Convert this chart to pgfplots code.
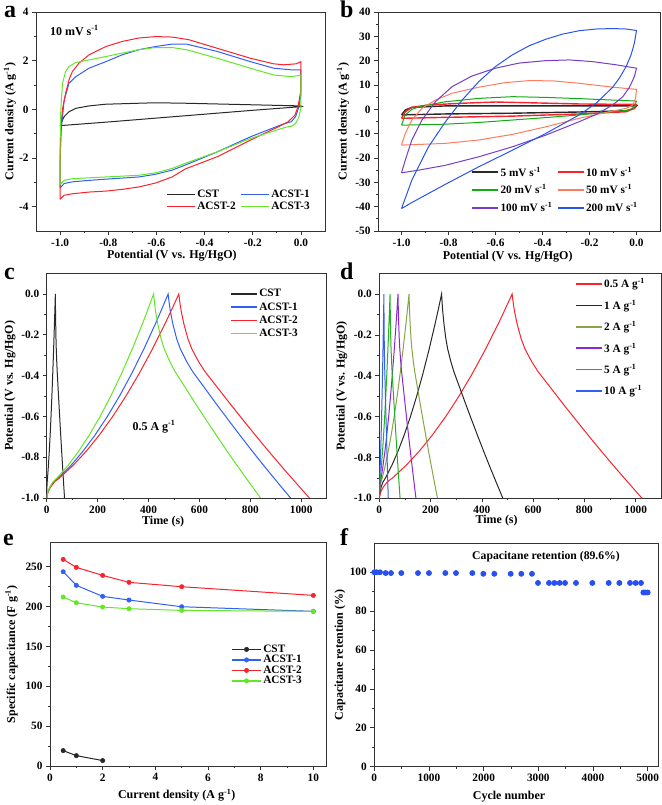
\documentclass[border=0pt]{standalone}
\usepackage{fontspec}
\setmainfont{Liberation Serif}
\usepackage{pgfplots}
\pgfplotsset{compat=1.18}

\definecolor{cblk}{RGB}{40,40,40}
\definecolor{cblue}{RGB}{50,95,245}
\definecolor{cred}{RGB}{250,35,45}
\definecolor{cgrn}{RGB}{100,230,40}
\definecolor{bgrn}{RGB}{20,170,20}
\definecolor{bsal}{RGB}{255,125,95}
\definecolor{bpur}{RGB}{120,60,200}
\definecolor{bblu}{RGB}{40,85,235}
\definecolor{dolv}{RGB}{135,165,70}
\definecolor{dpur}{RGB}{140,40,210}
\definecolor{dgrn}{RGB}{35,175,35}
\definecolor{fblu}{RGB}{40,80,240}

\newcommand{\tfont}{\fontsize{11.3}{13}\selectfont\bfseries}
\newcommand{\lfont}{\fontsize{12}{14}\selectfont\bfseries}
\newcommand{\gfont}{\fontsize{11.3}{13}\selectfont\bfseries}
\newcommand{\pfont}{\fontsize{24}{24}\selectfont\bfseries}
\newcommand{\sm}{\textsuperscript{-1}}

\pgfplotsset{
  panel/.style={
    scale only axis, anchor=south west,
    axis line style={black!80, line width=0.8pt},
    tick align=outside, xtick pos=left, ytick pos=left,
    major tick length=4pt, minor tick length=2.2pt,
    tick style={black!80, line width=0.7pt},
    tick label style={font=\tfont},
    label style={font=\lfont},
    /pgf/number format/assume math mode=true,
    /pgf/number format/1000 sep={},
    xlabel style={anchor=center},
    ylabel style={anchor=center},
    legend style={draw=none, fill=none, font=\gfont, inner sep=0pt, anchor=north west,
      nodes={inner sep=1.5pt}},
    legend cell align=left,
    every axis plot/.append style={line width=1pt},
  },
  dec1x/.style={xticklabel style={/pgf/number format/.cd, fixed, fixed zerofill, precision=1}},
  dec1y/.style={yticklabel style={/pgf/number format/.cd, fixed, fixed zerofill, precision=1}},
}

\begin{document}
\begin{tikzpicture}[x=1pt,y=1pt]
\useasboundingbox (0,0) rectangle (661,805);

% ---------------- panel a ----------------
\begin{axis}[panel, dec1x, at={(36pt,574pt)}, width=289pt, height=219pt,
  xmin=-1.1, xmax=0.1, ymin=-5, ymax=4,
  xtick={-1,-0.8,-0.6,-0.4,-0.2,0}, ytick={-4,-2,0,2,4},
  minor x tick num=1, minor y tick num=1,
  xlabel={Potential (V vs. Hg/HgO)}, ylabel={Current density (A g\sm)},
  xlabel style={at={(axis description cs:0.47,-0.114)}},
  ylabel style={at={(axis description cs:-0.09,0.5)}},
  legend columns=2,
  legend style={at={(axis description cs:0.45,0.194)}, row sep=0pt,
    /tikz/every even column/.append style={column sep=3pt}},
  legend image code/.code={\draw[#1, line width=1.5pt] (0pt,0pt) -- (28pt,0pt);},
]
\addplot[cblk] coordinates {(-1.0,-0.69) (-0.995,-0.55) (-0.983,-0.3) (-0.963,-0.1) (-0.935,0.04) (-0.88,0.14) (-0.81,0.21) (-0.673,0.25) (-0.604,0.27) (-0.48,0.25) (0,0.14) (0.005,0.12) (0,0.11) (-0.2,-0.04) (-0.4,-0.2) (-0.6,-0.36) (-0.8,-0.52) (-1.0,-0.67)};
\addlegendentry{CST}
\addplot[cblue] coordinates {(-1.0,-3.23) (-1.0,-2.0) (-0.995,-0.8) (-0.983,0.38) (-0.963,1.07) (-0.935,1.34) (-0.88,1.69) (-0.81,1.96) (-0.742,2.24) (-0.673,2.45) (-0.604,2.58) (-0.535,2.68) (-0.475,2.68) (-0.348,2.38) (-0.21,1.96) (-0.113,1.69) (-0.037,1.62) (0,1.62) (0,0.6) (-0.008,0.11) (-0.022,-0.3) (-0.04,-0.51) (-0.075,-0.61) (-0.21,-1.13) (-0.348,-1.75) (-0.475,-2.27) (-0.535,-2.5) (-0.604,-2.67) (-0.673,-2.78) (-0.81,-2.87) (-0.88,-2.92) (-0.949,-2.98) (-0.983,-3.05) (-1.0,-3.23)};
\addlegendentry{ACST-1}
\addplot[cred] coordinates {(-1.0,-3.70) (-1.0,-2.5) (-0.997,-0.8) (-0.99,0.0) (-0.977,0.66) (-0.963,1.21) (-0.949,1.55) (-0.921,1.9) (-0.88,2.24) (-0.81,2.58) (-0.742,2.79) (-0.673,2.93) (-0.604,2.99) (-0.535,2.97) (-0.465,2.86) (-0.348,2.51) (-0.21,2.10) (-0.113,1.87) (-0.072,1.83) (-0.02,1.87) (0,1.96) (0,0.8) (-0.012,0.11) (-0.025,-0.24) (-0.053,-0.51) (-0.08,-0.65) (-0.21,-1.27) (-0.348,-1.95) (-0.48,-2.45) (-0.535,-2.78) (-0.604,-3.03) (-0.673,-3.19) (-0.742,-3.29) (-0.81,-3.36) (-0.88,-3.40) (-0.949,-3.47) (-0.983,-3.53) (-1.0,-3.70)};
\addlegendentry{ACST-2}
\addplot[cgrn] coordinates {(-1.0,-3.09) (-1.0,-1.5) (-0.997,0.0) (-0.99,1.07) (-0.977,1.55) (-0.963,1.76) (-0.935,1.92) (-0.88,2.03) (-0.81,2.17) (-0.742,2.31) (-0.673,2.45) (-0.604,2.54) (-0.535,2.54) (-0.475,2.45) (-0.348,2.10) (-0.21,1.69) (-0.113,1.41) (-0.037,1.34) (0,1.41) (0,0.06) (-0.008,-0.3) (-0.022,-0.58) (-0.037,-0.69) (-0.065,-0.74) (-0.21,-1.2) (-0.348,-1.75) (-0.475,-2.2) (-0.535,-2.43) (-0.604,-2.61) (-0.673,-2.71) (-0.81,-2.78) (-0.949,-2.85) (-0.983,-2.92) (-1.0,-3.09)};
\addlegendentry{ACST-3}
\node[anchor=west, font=\fontsize{12}{14}\selectfont\bfseries, inner sep=0pt] at (axis description cs:0.048,0.915) {10 mV s\sm};
\end{axis}

% ---------------- panel b ----------------
\begin{axis}[panel, dec1x, at={(378pt,574pt)}, width=282pt, height=219pt,
  xmin=-1.1, xmax=0.1, ymin=-50, ymax=40,
  xtick={-1,-0.8,-0.6,-0.4,-0.2,0}, ytick={-50,-40,-30,-20,-10,0,10,20,30,40},
  minor x tick num=1, minor y tick num=1,
  xlabel={Potential (V vs. Hg/HgO)}, ylabel={Current density (A g\sm)},
  xlabel style={at={(axis description cs:0.46,-0.117)}},
  ylabel style={at={(axis description cs:-0.124,0.5)}},
  legend columns=2,
  legend style={at={(axis description cs:0.33,0.30)}, row sep=4pt,
    /tikz/every even column/.append style={column sep=3pt}},
  legend image code/.code={\draw[#1, line width=1.8pt] (0pt,0pt) -- (26pt,0pt);},
]
\addplot[cblk, line width=1.4pt] coordinates {(-1,-2.3) (-0.984,-0.3) (-0.956,0.8) (-0.813,1.4) (0,1.4) (-0.009,0.4) (-0.044,-0.6) (-0.244,-1.1) (-0.528,-1.6) (-0.813,-1.9) (-1,-2.3)};
\addlegendentry{5 mV s\sm}
\addplot[cred, line width=1.4pt] coordinates {(-1,-3.7) (-0.984,-1) (-0.956,0.8) (-0.885,1.8) (-0.742,2.5) (-0.6,3.0) (-0.457,2.7) (-0.244,2.2) (0,2.0) (-0.009,0.4) (-0.044,-1) (-0.244,-1.9) (-0.528,-2.8) (-0.813,-3.3) (-1,-3.7)};
\addlegendentry{10 mV s\sm}
\addplot[bgrn] coordinates {(-1,-6.5) (-0.984,-2.3) (-0.956,0) (-0.913,1.4) (-0.813,3.1) (-0.671,4.5) (-0.528,5.2) (-0.386,4.9) (-0.244,4.4) (-0.101,3.8) (0,3.4) (-0.009,1.1) (-0.03,-0.3) (-0.101,-1.0) (-0.244,-2.3) (-0.386,-3.4) (-0.528,-4.4) (-0.671,-5.4) (-0.813,-6.1) (-1,-6.5)};
\addlegendentry{20 mV s\sm}
\addplot[bsal] coordinates {(-1,-14.7) (-0.984,-9.9) (-0.956,-4.4) (-0.913,0.4) (-0.856,3.8) (-0.785,6.6) (-0.671,9.1) (-0.557,11.0) (-0.457,11.8) (-0.358,11.7) (-0.244,10.7) (-0.101,9.1) (0,8.2) (-0.004,4.5) (-0.016,1.8) (-0.044,0.4) (-0.101,-0.7) (-0.244,-3.7) (-0.386,-7.2) (-0.528,-10.3) (-0.671,-12.6) (-0.813,-14.0) (-1,-14.7)};
\addlegendentry{50 mV s\sm}
\addplot[bpur] coordinates {(-1,-26.1) (-0.984,-20.9) (-0.956,-12.6) (-0.913,-4.4) (-0.856,3.1) (-0.785,9.3) (-0.7,13.7) (-0.6,16.9) (-0.5,19.0) (-0.386,20.0) (-0.286,20.3) (-0.187,19.6) (-0.087,18.3) (0,16.9) (-0.009,13.4) (-0.03,9.1) (-0.058,5.2) (-0.101,1.8) (-0.172,-2.1) (-0.244,-5.1) (-0.386,-10.6) (-0.528,-15.4) (-0.671,-19.5) (-0.813,-23.0) (-0.927,-25.0) (-1,-26.1)};
\addlegendentry{100 mV s\sm}
\addplot[bblu] coordinates {(-1,-40.8) (-0.956,-29.1) (-0.885,-15.4) (-0.813,-5.1) (-0.742,3.8) (-0.671,11.4) (-0.6,17.6) (-0.528,22.4) (-0.457,26.1) (-0.386,28.8) (-0.315,30.9) (-0.244,32.3) (-0.172,33.0) (-0.101,33.2) (-0.044,33.0) (0,32.4) (-0.009,27.2) (-0.023,22.4) (-0.044,17.6) (-0.073,12.8) (-0.101,9.1) (-0.172,2.5) (-0.244,-2.3) (-0.386,-9.9) (-0.528,-16.8) (-0.671,-23.6) (-0.813,-30.8) (-0.956,-38.3) (-1,-40.8)};
\addlegendentry{200 mV s\sm}
\end{axis}

% ---------------- panel c ----------------
\begin{axis}[panel, dec1y, at={(46.7pt,307pt)}, width=280pt, height=224.4pt,
  xmin=0, xmax=1100, ymin=-1, ymax=0.1,
  xtick={0,200,400,600,800,1000}, ytick={-1,-0.8,-0.6,-0.4,-0.2,0},
  minor x tick num=1, minor y tick num=1,
  xlabel={Time (s)}, ylabel={Potential (V vs. Hg/HgO)},
  xlabel style={at={(axis description cs:0.416,-0.106)}},
  ylabel style={at={(axis description cs:-0.131,0.5)}},
  legend style={at={(axis description cs:0.655,0.937)}, row sep=1.2pt},
  legend image code/.code={\draw[#1, line width=1.5pt] (0pt,0pt) -- (26pt,0pt);},
]
\addplot[cblk] coordinates {(0,-1) (0.34,-0.97) (1.02,-0.945) (2.04,-0.92) (3.4,-0.9) (6.8,-0.84) (10.2,-0.77) (13.6,-0.69) (17,-0.6) (20.4,-0.5) (23.8,-0.39) (27.2,-0.27) (30.6,-0.14) (32.3,-0.071) (34,0) (34.36,-0.05) (34.72,-0.09) (35.44,-0.15) (36.52,-0.22) (37.6,-0.27) (39.4,-0.33) (41.2,-0.38) (44.8,-0.462) (48.4,-0.544) (52,-0.624) (55.6,-0.703) (59.2,-0.78) (62.8,-0.855) (66.4,-0.928) (70,-1)};
\addlegendentry{CST}
\addplot[cblue] coordinates {(0,-1) (4.77,-0.97) (14.31,-0.945) (28.62,-0.92) (47.7,-0.9) (95.4,-0.84) (143.1,-0.77) (190.8,-0.69) (238.5,-0.6) (286.2,-0.5) (333.9,-0.39) (381.6,-0.27) (429.3,-0.14) (453.15,-0.071) (477,0) (481.8,-0.05) (486.6,-0.09) (496.2,-0.15) (510.7,-0.22) (525.1,-0.27) (549.2,-0.33) (573.2,-0.38) (621.3,-0.462) (669.4,-0.544) (717.5,-0.624) (765.6,-0.703) (813.7,-0.78) (861.8,-0.855) (909.9,-0.928) (958,-1)};
\addlegendentry{ACST-1}
\addplot[cred] coordinates {(0,-1) (5.19,-0.97) (15.57,-0.945) (31.14,-0.92) (51.9,-0.9) (103.8,-0.84) (155.7,-0.77) (207.6,-0.69) (259.5,-0.6) (311.4,-0.5) (363.3,-0.39) (415.2,-0.27) (467.1,-0.14) (493.05,-0.071) (519,0) (524.1,-0.05) (529.3,-0.09) (539.5,-0.15) (554.9,-0.22) (570.3,-0.27) (596,-0.33) (621.6,-0.38) (672.9,-0.462) (724.2,-0.544) (775.5,-0.624) (826.8,-0.703) (878.1,-0.78) (929.4,-0.855) (980.7,-0.928) (1032,-1)};
\addlegendentry{ACST-2}
\addplot[cgrn] coordinates {(0,-1) (4.2,-0.97) (12.6,-0.945) (25.2,-0.92) (42,-0.9) (84,-0.84) (126,-0.77) (168,-0.69) (210,-0.6) (252,-0.5) (294,-0.39) (336,-0.27) (378,-0.14) (399,-0.071) (420,0) (424.2,-0.05) (428.4,-0.09) (436.8,-0.15) (449.4,-0.22) (462,-0.27) (483,-0.33) (504,-0.38) (546,-0.462) (588,-0.544) (630,-0.624) (672,-0.703) (714,-0.78) (756,-0.855) (798,-0.928) (840,-1)};
\addlegendentry{ACST-3}
\node[font=\fontsize{12}{14}\selectfont\bfseries, inner sep=0pt] at (axis description cs:0.383,0.318) {0.5 A g\sm};
\end{axis}

% ---------------- panel d ----------------
\begin{axis}[panel, dec1y, at={(379.3pt,306.7pt)}, width=282pt, height=224.7pt,
  xmin=0, xmax=1100, ymin=-1, ymax=0.1,
  xtick={0,200,400,600,800,1000}, ytick={-1,-0.8,-0.6,-0.4,-0.2,0},
  minor x tick num=1, minor y tick num=1,
  xlabel={Time (s)}, ylabel={Potential (V vs. Hg/HgO)},
  xlabel style={at={(axis description cs:0.416,-0.10)}},
  ylabel style={at={(axis description cs:-0.133,0.5)}},
  legend style={at={(axis description cs:0.694,0.985)}, row sep=7.7pt},
  legend image code/.code={\draw[#1, line width=1.5pt] (0pt,0pt) -- (26pt,0pt);},
]
\addplot[cred] coordinates {(0,-1) (5.18,-0.97) (15.54,-0.945) (31.08,-0.92) (51.8,-0.9) (103.6,-0.84) (155.4,-0.77) (207.2,-0.69) (259,-0.6) (310.8,-0.5) (362.6,-0.39) (414.4,-0.27) (466.2,-0.14) (492.1,-0.071) (518,0) (523.1,-0.05) (528.1,-0.09) (538.3,-0.15) (553.5,-0.22) (568.7,-0.27) (594.1,-0.33) (619.4,-0.38) (670.1,-0.462) (720.8,-0.544) (771.5,-0.624) (822.2,-0.703) (872.9,-0.78) (923.6,-0.855) (974.3,-0.928) (1025,-1)};
\addlegendentry{0.5 A g\sm}
\addplot[cblk] coordinates {(0,-1) (2.43,-0.97) (7.29,-0.945) (14.58,-0.92) (24.3,-0.9) (48.6,-0.84) (72.9,-0.77) (97.2,-0.69) (121.5,-0.6) (145.8,-0.5) (170.1,-0.39) (194.4,-0.27) (218.7,-0.14) (230.85,-0.071) (243,0) (245.4,-0.05) (247.8,-0.09) (252.6,-0.15) (259.7,-0.22) (266.9,-0.27) (278.9,-0.33) (290.8,-0.38) (314.7,-0.462) (338.6,-0.544) (362.5,-0.624) (386.4,-0.703) (410.3,-0.78) (434.2,-0.855) (458.1,-0.928) (482,-1)};
\addlegendentry{1 A g\sm}
\addplot[dolv] coordinates {(0,-1) (1.16,-0.97) (3.48,-0.945) (6.96,-0.92) (11.6,-0.9) (23.2,-0.84) (34.8,-0.77) (46.4,-0.69) (58,-0.6) (69.6,-0.5) (81.2,-0.39) (92.8,-0.27) (104.4,-0.14) (110.2,-0.071) (116,0) (117.1,-0.05) (118.2,-0.09) (120.4,-0.15) (123.8,-0.22) (127.1,-0.27) (132.7,-0.33) (138.2,-0.38) (149.3,-0.462) (160.4,-0.544) (171.5,-0.624) (182.6,-0.703) (193.7,-0.78) (204.8,-0.855) (215.9,-0.928) (227,-1)};
\addlegendentry{2 A g\sm}
\addplot[dpur] coordinates {(0,-1) (0.73,-0.97) (2.19,-0.945) (4.38,-0.92) (7.3,-0.9) (14.6,-0.84) (21.9,-0.77) (29.2,-0.69) (36.5,-0.6) (43.8,-0.5) (51.1,-0.39) (58.4,-0.27) (65.7,-0.14) (69.35,-0.071) (73,0) (73.7,-0.05) (74.4,-0.09) (75.8,-0.15) (77.9,-0.22) (80,-0.27) (83.5,-0.33) (87,-0.38) (94,-0.462) (101,-0.544) (108,-0.624) (115,-0.703) (122,-0.78) (129,-0.855) (136,-0.928) (143,-1)};
\addlegendentry{3 A g\sm}
\addplot[dgrn] coordinates {(0,-1) (0.42,-0.97) (1.26,-0.945) (2.52,-0.92) (4.2,-0.9) (8.4,-0.84) (12.6,-0.77) (16.8,-0.69) (21,-0.6) (25.2,-0.5) (29.4,-0.39) (33.6,-0.27) (37.8,-0.14) (39.9,-0.071) (42,0) (42.4,-0.05) (42.8,-0.09) (43.6,-0.15) (44.7,-0.22) (45.9,-0.27) (47.9,-0.33) (49.8,-0.38) (53.7,-0.462) (57.6,-0.544) (61.5,-0.624) (65.4,-0.703) (69.3,-0.78) (73.2,-0.855) (77.1,-0.928) (81,-1)};
\addlegendentry{5 A g\sm}
\addplot[cblue] coordinates {(0,-1) (0.18,-0.97) (0.54,-0.945) (1.08,-0.92) (1.8,-0.9) (3.6,-0.84) (5.4,-0.77) (7.2,-0.69) (9,-0.6) (10.8,-0.5) (12.6,-0.39) (14.4,-0.27) (16.2,-0.14) (17.1,-0.071) (18,0) (18.2,-0.05) (18.3,-0.09) (18.7,-0.15) (19.2,-0.22) (19.7,-0.27) (20.6,-0.33) (21.4,-0.38) (23.1,-0.462) (24.8,-0.544) (26.5,-0.624) (28.2,-0.703) (29.9,-0.78) (31.6,-0.855) (33.3,-0.928) (35,-1)};
\addlegendentry{10 A g\sm}
\end{axis}

% ---------------- panel e ----------------
\begin{axis}[panel, at={(50pt,39pt)}, width=276.5pt, height=223.2pt,
  xmin=0, xmax=10.5, ymin=0, ymax=280,
  xtick={0,2,4,6,8,10}, ytick={0,50,100,150,200,250},
  minor x tick num=1, minor y tick num=1,
  xlabel={Current density (A g\sm)}, ylabel={Specific capacitance (F g\sm)},
  xlabel style={at={(axis description cs:0.458,-0.132)}},
  ylabel style={at={(axis description cs:-0.139,0.5)}},
  legend style={at={(axis description cs:0.655,0.55)}, row sep=-1.5pt},
  legend image code/.code={\draw[mark repeat=2, mark phase=2, #1, line width=1.5pt] plot coordinates {(0pt,0pt) (14.5pt,0pt) (29pt,0pt)};},
  every axis plot/.append style={mark=*, mark size=2.2pt},
  clip=false,
]
\addplot[cblk, mark options={fill=cblk, line width=0.5pt}] coordinates {(0.5,19.3) (1,13) (2,6.8)};
\addlegendentry{CST}
\addplot[cblue, mark options={fill=cblue, line width=0.5pt}] coordinates {(0.5,243.7) (1,226.6) (2,212.8) (3,208.2) (5,199.8) (10,194)};
\addlegendentry{ACST-1}
\addplot[cred, mark options={fill=cred, line width=0.5pt}] coordinates {(0.5,259.2) (1,249.2) (2,239.1) (3,230.4) (5,224.9) (10,214)};
\addlegendentry{ACST-2}
\addplot[cgrn, mark options={fill=cgrn, line width=0.5pt}] coordinates {(0.5,212) (1,204.8) (2,199.4) (3,197.3) (5,195.2) (10,194)};
\addlegendentry{ACST-3}
\end{axis}

% ---------------- panel f ----------------
\begin{axis}[panel, at={(374.3pt,38.3pt)}, width=284.3pt, height=223.6pt,
  xmin=0, xmax=5200, ymin=0, ymax=115,
  xtick={0,1000,2000,3000,4000,5000}, ytick={0,20,40,60,80,100},
  minor x tick num=1, minor y tick num=1,
  xlabel={Cycle number}, ylabel={Capacitane retention (\%)},
  xlabel style={at={(axis description cs:0.474,-0.134)}},
  ylabel style={at={(axis description cs:-0.121,0.5)}},
  clip=false,
]
\addplot[only marks, mark=*, mark size=2.4pt, color=fblu, mark options={fill=fblu, draw=fblu}] coordinates {(0,100) (43,100) (104,100) (207,99.6) (305,99.6) (494,99.6) (799,99.6) (1000,99.6) (1299,99.6) (1494,99.6) (1793,99.6) (1994,99.2) (2195,99.2) (2494,99.2) (2689,99.2) (2884,99.2) (2994,94.5) (3195,94.5) (3293,94.5) (3390,94.5) (3488,94.5) (3689,94.5) (3988,94.5) (4287,94.5) (4482,94.5) (4677,94.5) (4780,94.5) (4878,94.5) (4921,89.6) (4957,89.6) (5000,89.6)};
\node[font=\fontsize{11.7}{14}\selectfont\bfseries, inner sep=0pt] at (axis description cs:0.604,0.938) {Capacitane retention (89.6\%)};
\end{axis}

% panel letters
\node[font=\pfont, anchor=base west, inner sep=0pt] at (4,787) {a};
\node[font=\pfont, anchor=base west, inner sep=0pt] at (340,787) {b};
\node[font=\pfont, anchor=base west, inner sep=0pt] at (4,525) {c};
\node[font=\pfont, anchor=base west, inner sep=0pt] at (340,525) {d};
\node[font=\pfont, anchor=base west, inner sep=0pt] at (3,259) {e};
\node[font=\pfont, anchor=base west, inner sep=0pt] at (340,259) {f};
\end{tikzpicture}
\end{document}
